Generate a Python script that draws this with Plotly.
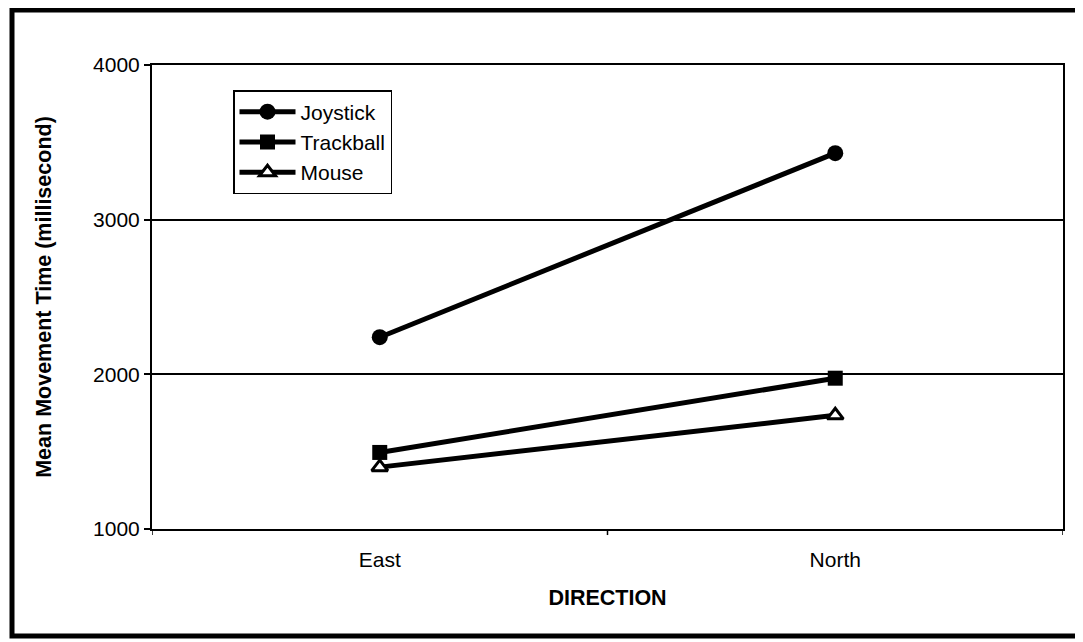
import plotly.graph_objects as go

directions = ["East", "North"]
joystick = [2240, 3430]
trackball = [1495, 1975]
mouse = [1400, 1735]
y_ticks = [1000, 2000, 3000, 4000]

# page body has an 8px margin, so figure coords = screen coords - 8
OFF = 8
W, H = 1083 - OFF, 642 - OFF
L, T = 152 - OFF, 65 - OFF
R = W - (1063 - OFF)
B = H - (529 - OFF)
pw, ph = W - L - R, H - T - B

def px(x):
    return (x - OFF - L) / pw

def py(y):
    return (H - B - (y - OFF)) / ph

fig = go.Figure()
fig.add_trace(go.Scatter(x=directions, y=joystick, name="Joystick", mode="lines+markers",
                         line=dict(color="black", width=5),
                         marker=dict(symbol="circle", size=16, color="black")))
fig.add_trace(go.Scatter(x=directions, y=trackball, name="Trackball", mode="lines+markers",
                         line=dict(color="black", width=5),
                         marker=dict(symbol="square", size=15, color="black")))
fig.add_trace(go.Scatter(x=directions, y=mouse, name="Mouse", mode="lines+markers",
                         line=dict(color="black", width=5),
                         marker=dict(symbol="triangle-up", size=14, color="white",
                                     line=dict(color="black", width=3))))

font = "Liberation Sans, Arial, sans-serif"
fig.update_layout(
    width=W, height=H,
    margin=dict(l=L, r=R, t=T, b=B),
    paper_bgcolor="white", plot_bgcolor="white",
    font=dict(family=font, size=21, color="black"),
    showlegend=True,
    legend=dict(x=px(233), y=py(90), xanchor="left", yanchor="top",
                bgcolor="white", bordercolor="black", borderwidth=1.5,
                font=dict(family=font, size=21, color="black"),
                tracegroupgap=0, itemwidth=56),
    xaxis=dict(type="category", range=[-0.5, 1.5], showgrid=False,
               showline=True, linecolor="black", linewidth=2, mirror=True,
               ticks="", tickfont=dict(size=21), ticklabelstandoff=11,
               title=dict(text="<b>DIRECTION</b>", font=dict(size=21.5), standoff=20)),
    yaxis=dict(range=[1000, 4000], tickvals=y_ticks, showgrid=True,
               gridcolor="black", gridwidth=1.5,
               showline=True, linecolor="black", linewidth=2, mirror=True,
               ticks="outside", ticklen=6, tickcolor="black", tickwidth=1.5,
               tickfont=dict(size=21), zeroline=False,
               title=dict(text="<b>Mean Movement Time (millisecond)</b>", font=dict(size=21.5), standoff=36)),
)

# category-divider tick marks on x-axis
for xv in [-0.5, 0.5, 1.5]:
    fig.add_shape(type="line", xref="x", yref="paper", x0=xv, x1=xv, y0=0, y1=-0.013,
                  line=dict(color="black", width=1.5))

# outer frame around the whole chart
fig.add_shape(type="rect", xref="paper", yref="paper",
              x0=px(12), x1=px(1078), y0=py(636), y1=py(10),
              line=dict(color="black", width=5), fillcolor="rgba(0,0,0,0)", layer="above")

fig.write_html("out.html")
